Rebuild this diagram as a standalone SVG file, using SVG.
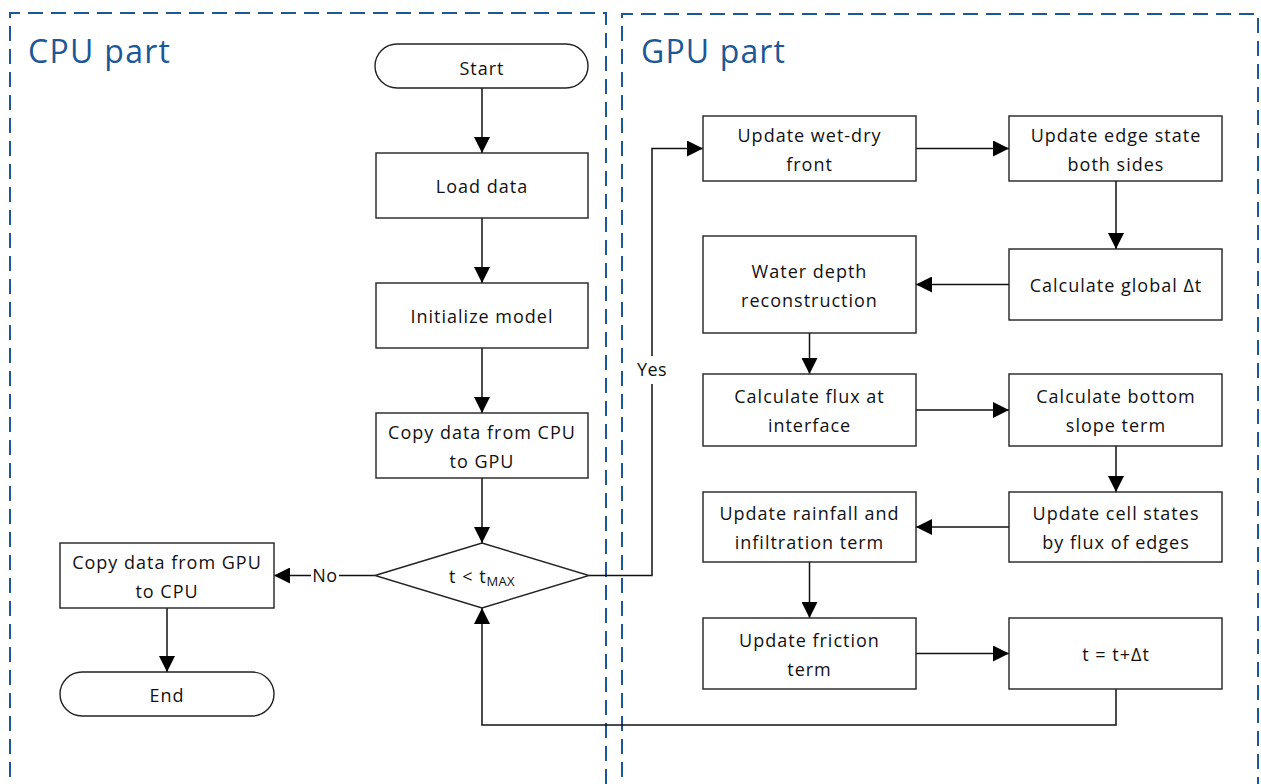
<svg xmlns="http://www.w3.org/2000/svg" width="1261" height="784" viewBox="0 0 1261 784">
<defs>
<marker id="arr" markerUnits="userSpaceOnUse" markerWidth="16" markerHeight="16" refX="16" refY="8" orient="auto">
<path d="M0,0 L16,8 L0,16 z" fill="#000"/>
</marker>
<style>
.box{fill:#fff;stroke:#222;stroke-width:1.4}
.t{font-family:"Open Sans","Liberation Sans",sans-serif;font-size:18px;fill:#111;text-anchor:middle;letter-spacing:1px}
.sub{font-size:13px;letter-spacing:0.3px}
.lbl{font-family:"Open Sans","Liberation Sans",sans-serif;font-size:18px;fill:#111;text-anchor:middle;letter-spacing:0.5px}
.zone{fill:none;stroke:#1c5896;stroke-width:2;stroke-dasharray:15 8}
.title{font-family:"Open Sans","Liberation Sans",sans-serif;font-size:32px;fill:#1c5896}
.c{fill:none;stroke:#111;stroke-width:1.5}
.ca{fill:none;stroke:#111;stroke-width:1.5;marker-end:url(#arr)}
</style>
</defs>
<rect width="1261" height="784" fill="#fff"/>
<g id="cpu-zone">
<path class="zone" d="M10,800 L10,13 L606,13 L606,800"/>
<text class="title" x="28" y="63" textLength="142" lengthAdjust="spacing">CPU part</text>
</g>
<g id="gpu-zone">
<path class="zone" d="M622,800 L622,14 L1258,14 L1258,800"/>
<text class="title" x="641" y="63" textLength="144" lengthAdjust="spacing">GPU part</text>
</g>

<g id="connectors">
<line class="ca" x1="482" y1="88" x2="482" y2="153"/>
<line class="ca" x1="482" y1="218" x2="482" y2="283"/>
<line class="ca" x1="482" y1="348" x2="482" y2="413"/>
<line class="ca" x1="482" y1="478" x2="482" y2="543"/>
<line class="c" x1="375" y1="575.5" x2="339" y2="575.5"/>
<line class="ca" x1="311" y1="575.5" x2="274" y2="575.5"/>
<text class="lbl" x="325" y="582">No</text>
<line class="ca" x1="167" y1="608" x2="167" y2="672"/>
<polyline class="c" points="589,575.5 652,575.5 652,384"/>
<polyline class="ca" points="652,356 652,148.5 703,148.5"/>
<text class="lbl" x="652" y="376">Yes</text>
<line class="ca" x1="916" y1="148.5" x2="1009" y2="148.5"/>
<line class="ca" x1="1116" y1="181" x2="1116" y2="249"/>
<line class="ca" x1="1009" y1="284.5" x2="916" y2="284.5"/>
<line class="ca" x1="809.5" y1="333" x2="809.5" y2="374"/>
<line class="ca" x1="916" y1="410" x2="1009" y2="410"/>
<line class="ca" x1="1116" y1="446" x2="1116" y2="492"/>
<line class="ca" x1="1009" y1="527" x2="916" y2="527"/>
<line class="ca" x1="809.5" y1="562" x2="809.5" y2="618"/>
<line class="ca" x1="916" y1="653.5" x2="1009" y2="653.5"/>
<polyline class="ca" points="1116,689 1116,725 482,725 482,608"/>
</g>

<g id="start"><rect class="box" x="375" y="44" width="213" height="44" rx="22"/><text class="t" x="482" y="75">Start</text></g>
<g id="load"><rect class="box" x="376" y="153" width="212" height="65"/><text class="t" x="482" y="193">Load data</text></g>
<g id="init"><rect class="box" x="376" y="283" width="212" height="65"/><text class="t" x="482" y="323">Initialize model</text></g>
<g id="copy-cpu-gpu"><rect class="box" x="376" y="413" width="212" height="65"/><text class="t" x="482" y="439">Copy data from CPU</text><text class="t" x="482" y="468">to GPU</text></g>
<g id="decision"><polygon class="box" points="375,575.5 482,543 589,575.5 482,608"/><text class="t" x="482" y="583">t &lt; t<tspan class="sub" dy="3">MAX</tspan></text></g>
<g id="copy-gpu-cpu"><rect class="box" x="60" y="543" width="214" height="65"/><text class="t" x="167" y="569">Copy data from GPU</text><text class="t" x="167" y="598">to CPU</text></g>
<g id="end"><rect class="box" x="60" y="672" width="214" height="44" rx="22"/><text class="t" x="167" y="702">End</text></g>

<g id="wetdry"><rect class="box" x="703" y="116" width="213" height="65"/><text class="t" x="809.5" y="142">Update wet-dry</text><text class="t" x="809.5" y="171">front</text></g>
<g id="edge"><rect class="box" x="1009" y="116" width="213" height="65"/><text class="t" x="1116" y="142">Update edge state</text><text class="t" x="1116" y="171">both sides</text></g>
<g id="globaldt"><rect class="box" x="1009" y="249" width="213" height="71"/><text class="t" x="1116" y="292">Calculate global Δt</text></g>
<g id="waterdepth"><rect class="box" x="703" y="236" width="213" height="97"/><text class="t" x="809.5" y="278">Water depth</text><text class="t" x="809.5" y="307">reconstruction</text></g>
<g id="flux"><rect class="box" x="703" y="374" width="213" height="72"/><text class="t" x="809.5" y="403">Calculate flux at</text><text class="t" x="809.5" y="432">interface</text></g>
<g id="slope"><rect class="box" x="1009" y="374" width="213" height="72"/><text class="t" x="1116" y="403">Calculate bottom</text><text class="t" x="1116" y="432">slope term</text></g>
<g id="cellstates"><rect class="box" x="1009" y="492" width="213" height="70"/><text class="t" x="1116" y="520">Update cell states</text><text class="t" x="1116" y="549">by flux of edges</text></g>
<g id="rainfall"><rect class="box" x="703" y="492" width="213" height="70"/><text class="t" x="809.5" y="520">Update rainfall and</text><text class="t" x="809.5" y="549">infiltration term</text></g>
<g id="friction"><rect class="box" x="703" y="618" width="213" height="71"/><text class="t" x="809.5" y="647">Update friction</text><text class="t" x="809.5" y="676">term</text></g>
<g id="tupdate"><rect class="box" x="1009" y="618" width="213" height="71"/><text class="t" x="1116" y="661">t = t+Δt</text></g>
</svg>
